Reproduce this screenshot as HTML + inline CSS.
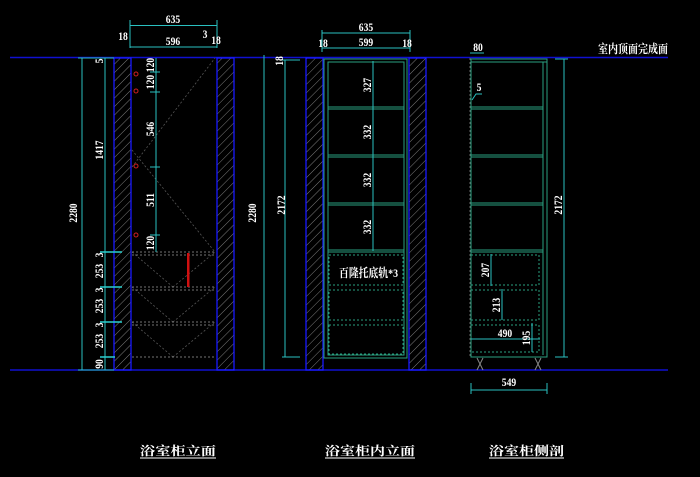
<!DOCTYPE html>
<html><head><meta charset="utf-8"><style>
html,body{margin:0;padding:0;background:#000;width:700px;height:477px;overflow:hidden}
text{font-family:"Liberation Serif","Noto Serif CJK SC",serif;fill:#fff;font-weight:bold;font-size:12px}
</style></head><body>
<svg width="700" height="477" viewBox="0 0 700 477" xmlns="http://www.w3.org/2000/svg">
<defs>
<pattern id="h" width="6" height="6" patternUnits="userSpaceOnUse" patternTransform="rotate(45)">
<line x1="0" y1="0" x2="0" y2="6" stroke="#8a8a8a" stroke-width="0.9"/>
</pattern>
</defs>
<rect width="700" height="477" fill="#000"/>
<line x1="10" y1="57.5" x2="668" y2="57.5" stroke="#1010d0" stroke-width="1.6"/>
<line x1="10" y1="370" x2="668" y2="370" stroke="#1010d0" stroke-width="1.6"/>

<!-- ===== Drawing 1 ===== -->
<rect x="114" y="58" width="17" height="312" fill="url(#h)" stroke="#1a1aff" stroke-width="1.3"/>
<rect x="217" y="58" width="17" height="312" fill="url(#h)" stroke="#1a1aff" stroke-width="1.3"/>
<g stroke="#555" stroke-dasharray="2,2" fill="none" stroke-width="0.8">
<line x1="132" y1="167" x2="215" y2="58"/>
<line x1="132" y1="150" x2="215" y2="252"/>
<line x1="132" y1="252" x2="173" y2="287"/><line x1="173" y1="287" x2="215" y2="252"/>
<line x1="132" y1="287" x2="173" y2="322"/><line x1="173" y1="322" x2="215" y2="287"/>
<line x1="132" y1="322" x2="173" y2="357"/><line x1="173" y1="357" x2="215" y2="322"/>
</g>
<g stroke="#999" stroke-dasharray="2,2" stroke-width="0.8">
<line x1="132" y1="252" x2="215" y2="252"/><line x1="132" y1="255" x2="215" y2="255"/>
<line x1="132" y1="287" x2="215" y2="287"/><line x1="132" y1="290" x2="215" y2="290"/>
<line x1="132" y1="322" x2="215" y2="322"/><line x1="132" y1="325" x2="215" y2="325"/>
<line x1="132" y1="357" x2="215" y2="357"/>
</g>
<rect x="187" y="253" width="2.5" height="34" fill="#d01010"/>
<g stroke="#d02020" fill="none"><circle cx="136" cy="74" r="2"/><circle cx="136" cy="91" r="2"/><circle cx="136" cy="166" r="2"/><circle cx="136" cy="235" r="2"/></g>
<g stroke="#2ac0c0" stroke-width="1" fill="none">
<line x1="130" y1="25.5" x2="217" y2="25.5"/><line x1="130" y1="20" x2="130" y2="48"/><line x1="217" y1="20" x2="217" y2="48"/>
<line x1="130" y1="47" x2="217" y2="47"/>
<line x1="82" y1="58" x2="82" y2="370"/><line x1="78" y1="58" x2="114" y2="58"/><line x1="78" y1="370" x2="114" y2="370"/>
<line x1="105" y1="58" x2="105" y2="370"/>
<line x1="156" y1="58" x2="156" y2="252"/>
<line x1="150" y1="72" x2="160" y2="72"/><line x1="150" y1="92" x2="160" y2="92"/><line x1="150" y1="167" x2="160" y2="167"/><line x1="150" y1="235" x2="160" y2="235"/>
</g>
<g stroke="#2ad0d0" stroke-width="1.5">
<line x1="100" y1="252" x2="122" y2="252"/><line x1="100" y1="287" x2="122" y2="287"/><line x1="100" y1="322" x2="122" y2="322"/><line x1="100" y1="357" x2="115" y2="357"/>
</g>
<text transform="translate(173,23) scale(0.8,1)" text-anchor="middle">635</text>
<text transform="translate(173,45) scale(0.8,1)" text-anchor="middle">596</text>
<text transform="translate(123,40) scale(0.8,1)" text-anchor="middle">18</text>
<text transform="translate(205,38) scale(0.8,1)" text-anchor="middle">3</text>
<text transform="translate(216,44) scale(0.8,1)" text-anchor="middle">18</text>
<text transform="translate(77,213) rotate(-90) scale(0.8,1)" text-anchor="middle">2280</text>
<text transform="translate(256,213) rotate(-90) scale(0.8,1)" text-anchor="middle">2280</text>
<text transform="translate(103,150) rotate(-90) scale(0.8,1)" text-anchor="middle">1417</text>
<text transform="translate(103,61) rotate(-90) scale(0.8,1)" text-anchor="middle">5</text>
<text transform="translate(154,65) rotate(-90) scale(0.8,1)" text-anchor="middle">120</text>
<text transform="translate(154,82) rotate(-90) scale(0.8,1)" text-anchor="middle">120</text>
<text transform="translate(154,129) rotate(-90) scale(0.8,1)" text-anchor="middle">546</text>
<text transform="translate(154,200) rotate(-90) scale(0.8,1)" text-anchor="middle">511</text>
<text transform="translate(154,243) rotate(-90) scale(0.8,1)" text-anchor="middle">120</text>
<text transform="translate(103,255) rotate(-90) scale(0.8,1)" text-anchor="middle">3</text>
<text transform="translate(103,271) rotate(-90) scale(0.8,1)" text-anchor="middle">253</text>
<text transform="translate(103,290) rotate(-90) scale(0.8,1)" text-anchor="middle">3</text>
<text transform="translate(103,306) rotate(-90) scale(0.8,1)" text-anchor="middle">253</text>
<text transform="translate(103,325) rotate(-90) scale(0.8,1)" text-anchor="middle">3</text>
<text transform="translate(103,341) rotate(-90) scale(0.8,1)" text-anchor="middle">253</text>
<text transform="translate(103,364) rotate(-90) scale(0.8,1)" text-anchor="middle">90</text>

<!-- ===== Drawing 2 ===== -->
<rect x="306" y="58" width="17" height="312" fill="url(#h)" stroke="#1a1aff" stroke-width="1.3"/>
<rect x="409" y="58" width="17" height="312" fill="url(#h)" stroke="#1a1aff" stroke-width="1.3"/>
<g stroke="#2aa080" fill="none" stroke-width="1">
<rect x="324" y="59" width="83" height="299"/>
<rect x="328" y="62" width="76" height="293"/>
<line x1="328" y1="107" x2="404" y2="107"/><line x1="328" y1="109" x2="404" y2="109"/>
<line x1="328" y1="155" x2="404" y2="155"/><line x1="328" y1="157" x2="404" y2="157"/>
<line x1="328" y1="203" x2="404" y2="203"/><line x1="328" y1="205" x2="404" y2="205"/>
<line x1="328" y1="250" x2="404" y2="250"/><line x1="328" y1="252" x2="404" y2="252"/>
</g>
<g stroke="#2aa080" fill="none" stroke-dasharray="2,2">
<rect x="329" y="255" width="74" height="30"/>
<rect x="329" y="290" width="74" height="30"/>
<rect x="329" y="325" width="74" height="29"/>
</g>
<g stroke="#2ac0c0" stroke-width="1" fill="none">
<line x1="322" y1="33" x2="410" y2="33"/><line x1="322" y1="48" x2="410" y2="48"/>
<line x1="322" y1="30" x2="322" y2="52"/><line x1="410" y1="30" x2="410" y2="52"/>
<line x1="373" y1="61" x2="373" y2="251"/>
<line x1="285" y1="60" x2="285" y2="357"/><line x1="282" y1="357" x2="300" y2="357"/><line x1="282" y1="60" x2="300" y2="60"/>
<line x1="264" y1="55" x2="264" y2="370"/>
</g>
<text transform="translate(366,31) scale(0.8,1)" text-anchor="middle">635</text>
<text transform="translate(366,46) scale(0.8,1)" text-anchor="middle">599</text>
<text transform="translate(323,47) scale(0.8,1)" text-anchor="middle">18</text>
<text transform="translate(407,47) scale(0.8,1)" text-anchor="middle">18</text>
<text transform="translate(283,61) rotate(-90) scale(0.8,1)" text-anchor="middle">18</text>
<text transform="translate(285,205) rotate(-90) scale(0.8,1)" text-anchor="middle" font-size="13">2172</text>
<text transform="translate(371,85) rotate(-90) scale(0.8,1)" text-anchor="middle">327</text>
<text transform="translate(371,132) rotate(-90) scale(0.8,1)" text-anchor="middle">332</text>
<text transform="translate(371,180) rotate(-90) scale(0.8,1)" text-anchor="middle">332</text>
<text transform="translate(371,227) rotate(-90) scale(0.8,1)" text-anchor="middle">332</text>
<text x="339" y="277" font-size="12" textLength="59" lengthAdjust="spacingAndGlyphs">百隆托底轨*3</text>

<!-- ===== Drawing 3 ===== -->
<g stroke="#2aa080" fill="none" stroke-width="1">
<rect x="471" y="59" width="76" height="298"/>
<line x1="471" y1="62" x2="547" y2="62"/>
<line x1="543" y1="62" x2="543" y2="355"/>
<line x1="471" y1="107" x2="543" y2="107"/><line x1="471" y1="109" x2="543" y2="109"/>
<line x1="471" y1="155" x2="543" y2="155"/><line x1="471" y1="157" x2="543" y2="157"/>
<line x1="471" y1="203" x2="543" y2="203"/><line x1="471" y1="205" x2="543" y2="205"/>
<line x1="471" y1="250" x2="543" y2="250"/><line x1="471" y1="252" x2="543" y2="252"/>
</g>
<line x1="470" y1="58" x2="470" y2="357" stroke="#666" stroke-dasharray="2,2"/>
<g stroke="#2aa080" fill="none" stroke-dasharray="2,2">
<rect x="471" y="255" width="68" height="30"/>
<rect x="471" y="290" width="68" height="30"/>
<rect x="471" y="325" width="68" height="27"/>
</g>
<g stroke="#888" fill="none"><path d="M477 358 l3 6 l-3 6 M483 358 l-3 6 l3 6"/><path d="M535 358 l3 6 l-3 6 M541 358 l-3 6 l3 6"/></g>
<g stroke="#2ac0c0" stroke-width="1" fill="none">
<line x1="564" y1="59" x2="564" y2="357"/><line x1="555" y1="59" x2="568" y2="59"/><line x1="555" y1="357" x2="568" y2="357"/>
<line x1="470" y1="53" x2="484" y2="53"/>
<path d="M472 100 l4 -6 h6"/>
<line x1="491" y1="254" x2="491" y2="286"/>
<line x1="502" y1="289" x2="502" y2="320"/>
<line x1="532" y1="323" x2="532" y2="352"/>
<line x1="471" y1="339" x2="540" y2="339"/>
<line x1="471" y1="390" x2="547" y2="390"/><line x1="471" y1="383" x2="471" y2="394"/><line x1="547" y1="383" x2="547" y2="394"/>
</g>
<text transform="translate(478,51) scale(0.8,1)" text-anchor="middle">80</text>
<text transform="translate(479,91) scale(0.8,1)" text-anchor="middle">5</text>
<text transform="translate(505,337) scale(0.8,1)" text-anchor="middle">490</text>
<text transform="translate(509,386) scale(0.8,1)" text-anchor="middle">549</text>
<text transform="translate(489,270) rotate(-90) scale(0.8,1)" text-anchor="middle">207</text>
<text transform="translate(500,305) rotate(-90) scale(0.8,1)" text-anchor="middle">213</text>
<text transform="translate(530,338) rotate(-90) scale(0.8,1)" text-anchor="middle">195</text>
<text transform="translate(562,205) rotate(-90) scale(0.8,1)" text-anchor="middle" font-size="13">2172</text>
<text x="598" y="53" font-size="12" textLength="70" lengthAdjust="spacingAndGlyphs">室内顶面完成面</text>

<!-- titles -->
<text x="140" y="455" font-size="16" textLength="76" lengthAdjust="spacingAndGlyphs">浴室柜立面</text>
<line x1="140" y1="458" x2="216" y2="458" stroke="#fff"/>
<text x="325" y="455" font-size="16" textLength="90" lengthAdjust="spacingAndGlyphs">浴室柜内立面</text>
<line x1="325" y1="458" x2="415" y2="458" stroke="#fff"/>
<text x="489" y="455" font-size="16" textLength="75" lengthAdjust="spacingAndGlyphs">浴室柜侧剖</text>
<line x1="489" y1="458" x2="564" y2="458" stroke="#fff"/>
</svg>
</body></html>
